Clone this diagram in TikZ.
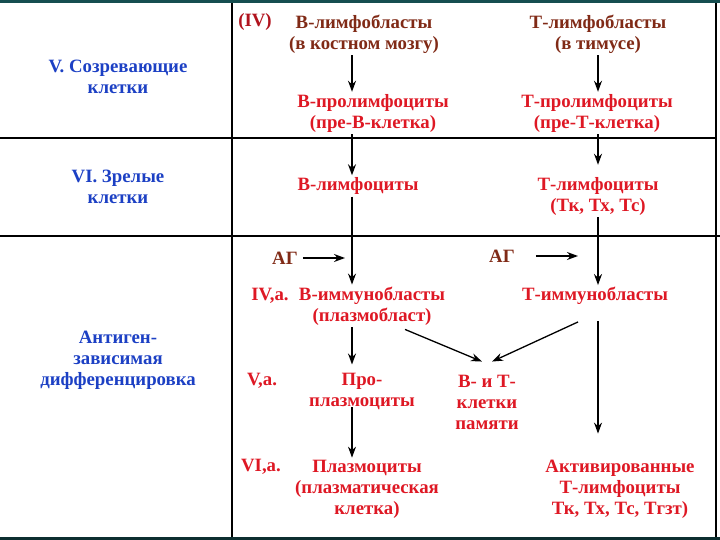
\documentclass[tikz,border=0pt]{standalone}
\usepackage{fontspec}
\setmainfont{Liberation Serif}
\usetikzlibrary{arrows.meta}
\definecolor{cellred}{RGB}{222,24,36}
\definecolor{cellbrown}{RGB}{128,42,22}
\definecolor{stageblue}{RGB}{28,64,196}
\definecolor{frameteal}{RGB}{22,78,80}

\begin{document}
\begin{tikzpicture}[x=1pt, y=-1pt,
    stage/.style={text=stageblue, font=\bfseries\fontsize{18.8}{21}\selectfont, align=center},
    cell/.style={text=cellred, font=\bfseries\fontsize{18.8}{21}\selectfont, align=center, inner sep=2pt},
    blast/.style={cell, text=cellbrown},
    flow/.style={-{Stealth[length=11pt,width=8pt]}, line width=1.3pt}]
    \useasboundingbox (0,0) rectangle (720,540);

    % table grid
    \draw[line width=1.2pt] (0,138) -- (716,138);
    \draw[line width=1.2pt] (0,236) -- (720,236);
    \draw[line width=1.2pt] (232,3) -- (232,537);
    \draw[line width=1.2pt] (716,3) -- (716,537);
    \draw[frameteal, line width=3pt] (0,1.5) -- (720,1.5);
    \draw[frameteal!60!black, line width=3pt] (0,538.5) -- (720,538.5);

    % stage labels
    \node[stage] (s5) at (118,77) {V. Созревающие\\клетки};
    \node[stage] (s6) at (118,187) {VI. Зрелые\\клетки};
    \node[stage] (s7) at (118,360) {Антиген-\\зависимая\\дифференцировка};

    % B and T tracks
    \node[cell, text=cellred!80!black] (iv) at (255,22) {(IV)};
    \node[blast] (bblast) at (364,34) {В-лимфобласты\\(в костном мозгу)};
    \node[blast] (tblast) at (598,34) {Т-лимфобласты\\(в тимусе)};
    \node[cell] (bpro) at (373,113) {В-пролимфоциты\\(пре-В-клетка)};
    \node[cell] (tpro) at (597,113) {Т-пролимфоциты\\(пре-Т-клетка)};
    \node[cell] (blym) at (358,186) {В-лимфоциты};
    \node[cell] (tlym) at (598,196) {Т-лимфоциты\\(Тк, Тх, Тс)};
    \node[blast] (ag1) at (285,258) {АГ};
    \node[blast] (ag2) at (502,256) {АГ};
    \node[cell] (iva) at (270,296) {IV,а.};
    \node[cell] (bimm) at (372,306) {В-иммунобласты\\(плазмобласт)};
    \node[cell] (timm) at (595,296) {Т-иммунобласты};
    \node[cell] (va) at (262,381) {V,а.};
    \node[cell] (bprop) at (362,391) {Про-\\плазмоциты};
    \node[cell] (mem) at (487,402) {В- и Т-\\клетки\\памяти};
    \node[cell] (via) at (261,467) {VI,а.};
    \node[cell] (plasma) at (367,489) {Плазмоциты\\(плазматическая\\клетка)};
    \node[cell] (tact) at (620,489) {Активированные\\Т-лимфоциты\\Тк, Тх, Тс, Тгзт)};

    \coordinate (bcol) at (352,0);
    \coordinate (tcol) at (598,0);

    \draw[flow] (bblast.south -| bcol) -- (bpro.north -| bcol);
    \draw[flow] (bpro.south -| bcol) -- (blym.north -| bcol);
    \draw[flow] (blym.south -| bcol) -- (bimm.north -| bcol);
    \draw[flow, shorten >=6pt] (bimm.south -| bcol) -- (bprop.north -| bcol);
    \draw[flow, shorten <=-4pt] (bprop.south -| bcol) -- (plasma.north -| bcol);

    \draw[flow] (tblast.south -| tcol) -- (tpro.north -| tcol);
    \draw[flow, shorten >=10pt] (tpro.south -| tcol) -- (tlym.north -| tcol);
    \draw[flow] (tlym.south -| tcol) -- (timm.north -| tcol);
    \draw[flow, shorten <=14pt, shorten >=24pt] (timm.south -| tcol) -- (tact.north -| tcol);

    \draw[flow, shorten <=3pt, shorten >=7pt] (ag1.east) -- (ag1.east -| bcol);
    \draw[flow, shorten <=19pt, shorten >=20pt] (ag2.east) -- (ag2.east -| tcol);

    \draw[flow] ([xshift=33pt,yshift=-2pt]bimm.south) -- ([xshift=-5pt,yshift=11pt]mem.north);
    \draw[flow] ([xshift=-17pt,yshift=-15pt]timm.south) -- ([xshift=5pt,yshift=11pt]mem.north);
\end{tikzpicture}
\end{document}
